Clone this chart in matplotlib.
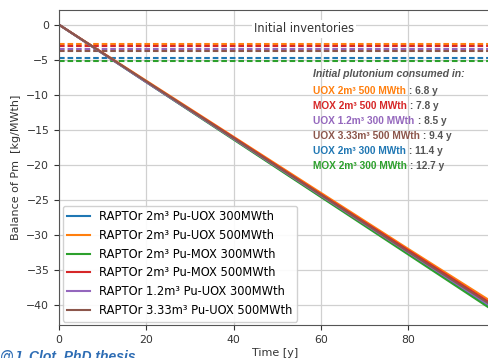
import matplotlib
matplotlib.use('Agg')
import matplotlib.pyplot as plt

# balance of Pm [kg/MWth]
time = [0, 20, 40, 60, 80, 99]
uox_2_300 = [0, -8.2, -16.3, -24.5, -32.6, -40.3]
uox_2_500 = [0, -8.0, -16.0, -24.0, -32.0, -39.5]
mox_2_300 = [0, -8.2, -16.4, -24.6, -32.8, -40.6]
mox_2_500 = [0, -8.1, -16.1, -24.2, -32.2, -39.8]
uox_12_300 = [0, -8.2, -16.3, -24.4, -32.5, -40.2]
uox_333_500 = [0, -8.1, -16.2, -24.3, -32.4, -40.0]

labels = ['RAPTOr 2m³ Pu-UOX 300MWth', 'RAPTOr 2m³ Pu-UOX 500MWth',
          'RAPTOr 2m³ Pu-MOX 300MWth', 'RAPTOr 2m³ Pu-MOX 500MWth',
          'RAPTOr 1.2m³ Pu-UOX 300MWth', 'RAPTOr 3.33m³ Pu-UOX 500MWth']
colors = ['tab:blue', 'tab:orange', 'tab:green', 'tab:red', 'tab:purple', 'tab:brown']

# initial inventories (same order as labels)
inventories = [-4.7, -2.7, -5.2, -3.1, -3.4, -3.8]

# consumption times shown in the text block
cons_names = ['UOX 2m³ 500 MWth', 'MOX 2m³ 500 MWth', 'UOX 1.2m³ 300 MWth',
              'UOX 3.33m³ 500 MWth', 'UOX 2m³ 300 MWth', 'MOX 2m³ 300 MWth']
cons_years = [6.8, 7.8, 8.5, 9.4, 11.4, 12.7]
cons_colors = ['tab:orange', 'tab:red', 'tab:purple', 'tab:brown', 'tab:blue', 'tab:green']

series = [uox_2_300, uox_2_500, mox_2_300, mox_2_500, uox_12_300, uox_333_500]

fig = plt.figure(figsize=(4.88, 3.58), dpi=100)
ax = fig.add_axes([0.121, 0.092, 0.885, 0.88])

for inv, c in zip(inventories, colors):
    ax.axhline(inv, color=c, lw=1.5, ls=(0, (2.7, 1.4)))

for y, lab, c in zip(series, labels, colors):
    ax.plot(time, y, color=c, lw=1.5, label=lab)

ax.set_xlim(0, 99)
ax.set_ylim(-42.9, 2.1)
ax.grid(True, color='#d0d0d0', lw=0.9)
ax.tick_params(labelsize=7.8, colors='#333333')
for s in ax.spines.values():
    s.set_color('#555555')

ax.set_xlabel('Time [y]', fontsize=8, color='#333333', labelpad=2)
ax.set_ylabel('Balance of Pm  [kg/MWth]', fontsize=8, color='#333333')

ax.text(44.6, -0.6, 'Initial inventories', fontsize=8.3, color='#333333', va='center',
        bbox=dict(facecolor='white', edgecolor='none', pad=1.5))

ax.text(58.3, -7.1, 'Initial plutonium consumed in:', fontsize=7.6, color='#555555',
        fontweight='bold', fontstyle='italic', family='Liberation Sans', va='center')
for i, (n, yr, c) in enumerate(zip(cons_names, cons_years, cons_colors)):
    t = ax.text(58.3, -9.5 - 2.15 * i, n, fontsize=7.3, color=c, fontweight='bold',
                family='Liberation Sans', va='center')
    ax.annotate(' : {} y'.format(yr), xy=(1, 0.5), xycoords=t, va='center',
                fontsize=7.3, color='#555555', fontweight='bold', family='Liberation Sans')

ax.legend(loc='lower left', fontsize=8.3, handlelength=2.0, borderaxespad=0.3,
          labelspacing=0.5, framealpha=0.9)

fig.text(0.0, 0.024, '@J. Clot, PhD thesis', fontsize=10, color='#2e6db4',
         fontweight='bold', fontstyle='italic', family='Liberation Sans', va='top')

fig.savefig('out.png', dpi=100)
